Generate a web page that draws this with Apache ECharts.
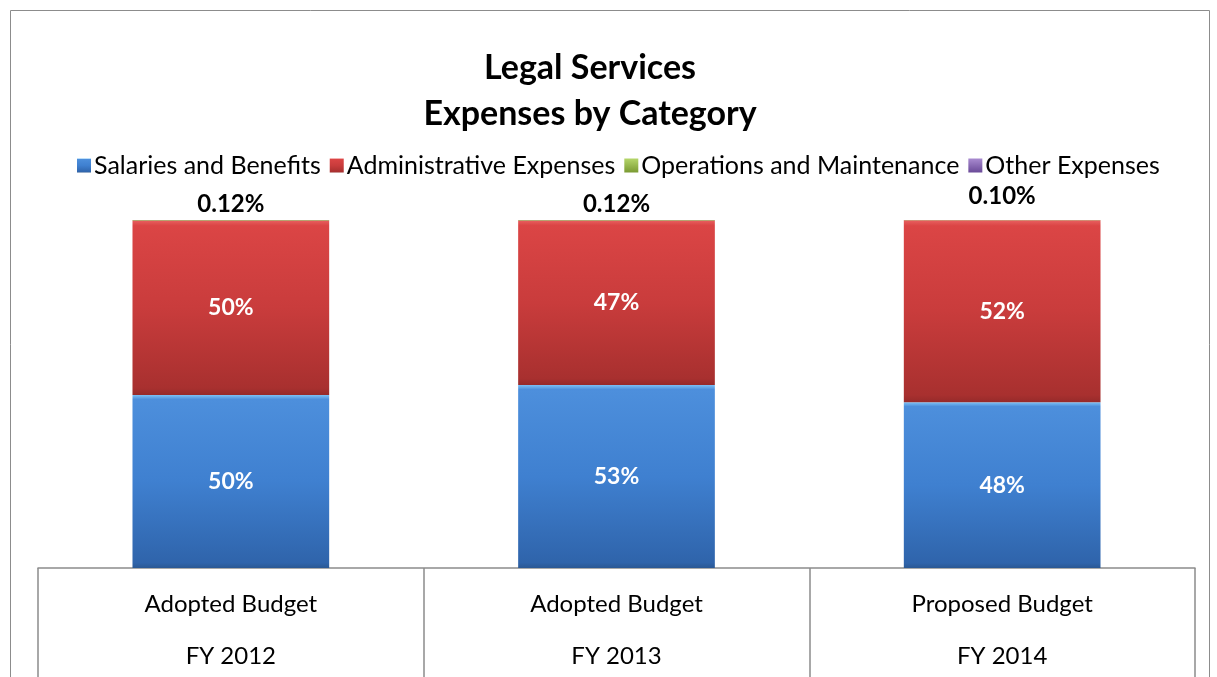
<!DOCTYPE html>
<html>
<head>
<meta charset="utf-8">
<script src="https://cdn.jsdelivr.net/npm/echarts@6/dist/echarts.min.js"></script>
<style>html,body{margin:0;padding:0;background:#fff;}#c{width:1217px;height:677px;}</style>
</head>
<body>
<div id="c"></div>
<script>
const budgetTypes = ['Adopted Budget', 'Adopted Budget', 'Proposed Budget'];
const fiscalYears = ['FY 2012', 'FY 2013', 'FY 2014'];
const salaries = [49.7, 52.6, 47.6];
const administrative = [50.18, 47.28, 52.3];
const operations = [0.12, 0.12, 0.10];
const other = [null, null, null];
const seriesNames = ['Salaries and Benefits', 'Administrative Expenses', 'Operations and Maintenance', 'Other Expenses'];

const categories = budgetTypes.map((b, i) => b + '\n' + fiscalYears[i]);
const FONT = 'Lato, "Open Sans", sans-serif';

function grad(stops) {
  return new echarts.graphic.LinearGradient(0, 0, 0, 1, stops.map((c) => ({offset: c[0], color: c[1]})));
}
const blue = grad([[0, '#7cc0f5'], [0.025, '#4d8fdc'], [0.5, '#3f80d0'], [0.97, '#2f64ab'], [1, '#2a5894']]);
const red = grad([[0, '#e86060'], [0.03, '#db4545'], [0.5, '#c93c3c'], [0.96, '#a8302f'], [1, '#962a2a']]);
const green = grad([[0, '#b5d66a'], [1, '#7a9a32']]);
const purple = grad([[0, '#a98bd0'], [1, '#6a4a98']]);

const innerLabel = {
  show: true, position: 'inside', color: '#ffffff', fontFamily: FONT,
  fontWeight: 'bold', fontSize: 23,
  formatter: p => Math.round(p.value) + '%'
};

const chart = echarts.init(document.getElementById('c'));
chart.setOption({
  animation: false,
  graphic: [{
    type: 'rect', silent: true,
    shape: {x: 10.5, y: 10.5, width: 1199, height: 720},
    style: {fill: 'none', stroke: '#8c8c8c', lineWidth: 1}
  }],
  title: {
    text: 'Legal Services\nExpenses by Category',
    left: 585, top: 40, textAlign: 'center',
    textStyle: {fontFamily: FONT, fontWeight: 'bold', fontSize: 34, lineHeight: 46, color: '#000'}
  },
  legend: {
    top: 148, left: 72,
    itemWidth: 14, itemHeight: 14, itemGap: 9,
    icon: 'rect',
    textStyle: {fontFamily: FONT, fontSize: 25, color: '#000', padding: [0, 0, 0, -2]},
    data: seriesNames
  },
  grid: {left: 38, right: 22, top: 220, bottom: 109, outerBoundsMode: 'none', containLabel: false},
  xAxis: {
    type: 'category', data: categories,
    axisLine: {lineStyle: {color: '#8c8c8c', width: 1.5}},
    axisTick: {show: true, interval: 0, length: 115, lineStyle: {color: '#8c8c8c', width: 1.5}},
    axisLabel: {interval: 0, margin: 10, fontFamily: FONT, fontSize: 24, color: '#000', lineHeight: 52}
  },
  yAxis: {type: 'value', min: 0, max: 100, show: false, splitLine: {show: false}},
  series: [
    {name: seriesNames[0], type: 'bar', stack: 'total', barWidth: '51%', data: salaries,
     itemStyle: {color: blue}, label: innerLabel},
    {name: seriesNames[1], type: 'bar', stack: 'total', data: administrative,
     itemStyle: {color: red}, label: innerLabel},
    {name: seriesNames[2], type: 'bar', stack: 'total',
     data: operations.map((v, i) => i === 2 ? {value: v, label: {distance: 12}} : v),
     itemStyle: {color: green},
     label: {show: true, position: 'top', distance: 4, color: '#000', fontFamily: FONT,
             fontWeight: 'bold', fontSize: 24, formatter: p => p.value.toFixed(2) + '%'}},
    {name: seriesNames[3], type: 'bar', stack: 'total', data: other,
     itemStyle: {color: purple}}
  ]
});
</script>
</body>
</html>
